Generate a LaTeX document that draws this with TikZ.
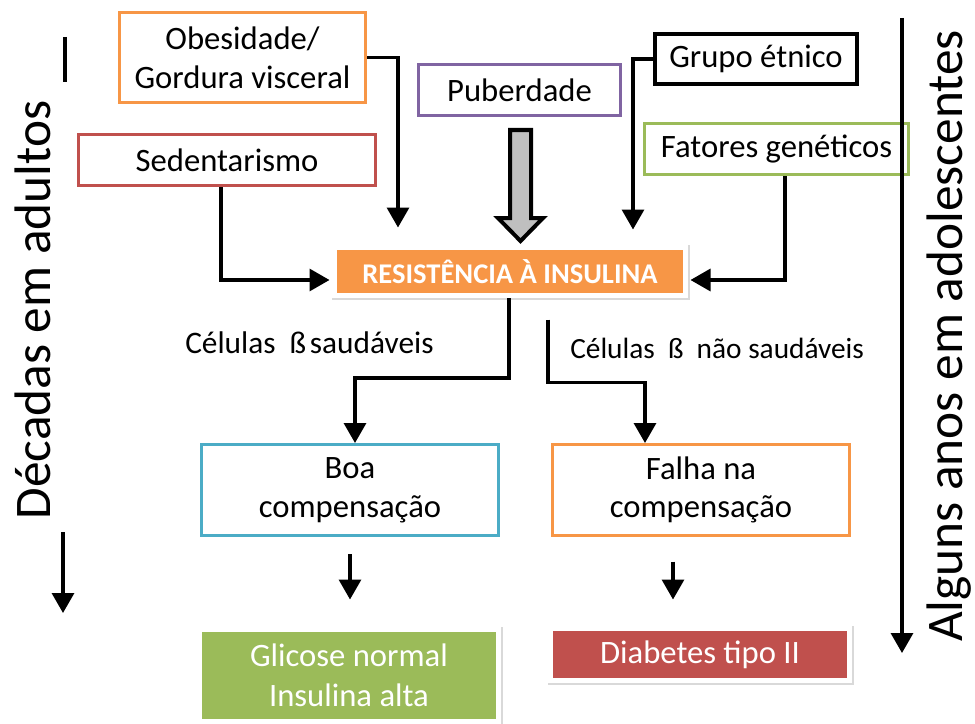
\documentclass[tikz,border=0pt]{standalone}
\usepackage{fontspec}
\setmainfont{Carlito}
\usetikzlibrary{arrows.meta}
\definecolor{cOrange}{HTML}{F79646}
\definecolor{cRed}{HTML}{C0504D}
\definecolor{cPurple}{HTML}{8064A2}
\definecolor{cGreen}{HTML}{9BBB59}
\definecolor{cBlue}{HTML}{4BACC6}
\definecolor{cGray}{HTML}{BFBFBF}
\def\pu{0.75pt}
\tikzset{
  sz/.style 2 args={minimum width=#1*0.75pt, minimum height=#2*0.75pt},
  box/.style={draw=#1, line width=2.25pt, fill=white, inner sep=0pt, align=center,
    font=\fontsize{24.5}{29}\selectfont},
  solidbox/.style={fill=#1, draw=white, line width=3.75pt, inner sep=0pt, align=center,
    text=white, font=\fontsize{24.5}{30}\selectfont,
    preaction={draw=black!15, line width=5.25pt, transform canvas={xshift=0.5pt,yshift=-0.8pt}}},
  arr/.style={line width=2.5pt, -{Triangle[length=15pt,width=16.5pt]}},
  sidelabel/.style={rotate=90, anchor=base, font=\fontsize{38.5}{40}\selectfont},
}
\begin{document}
\begin{tikzpicture}[x=0.75pt, y=-0.75pt]
\useasboundingbox (0,0) rectangle (975,724);

% boxes
\node[box=cOrange, sz={246}{90}] (obes) at (242.5,57.5) {Obesidade/\\Gordura visceral};
\node[box=cRed, sz={297}{51}] (sed) at (227,160) {Sedentarismo};
\node[box=cPurple, sz={202}{51}] (pub) at (519.5,90) {Puberdade};
\node[box=black, line width=3pt, sz={202}{50}] (grp) at (756,59) {Grupo étnico};
\node[box=cGreen, sz={264}{51}] (fat) at (776.5,149) {Fatores genéticos};
\node[solidbox=cOrange, sz={351}{48}, font=\bfseries\fontsize{21.4}{25}\selectfont] (res) at (510,271.5) {RESISTÊNCIA À INSULINA};
\node[box=cBlue, sz={297}{91}] (boa) at (350,490) {Boa\\compensação};
\node[box=cOrange, sz={297}{91}] (fal) at (701,490) {Falha na\\compensação};
\node[solidbox=cGreen, sz={299}{92}] (gli) at (349,675.5) {Glicose normal\\Insulina alta};
\node[solidbox=cRed, sz={299}{52}] (dia) at (700,654.5) {Diabetes tipo II};

% labels
\node[anchor=base west, inner sep=0pt, font=\fontsize{23.5}{28}\selectfont] (lab1) at (185,353)
  {Células\hspace{0.45em}ß\hspace{0.12em}saudáveis};
\node[anchor=base west, inner sep=0pt, font=\fontsize{22}{26}\selectfont] (lab2) at (570,358)
  {Células\hspace{0.45em}ß\hspace{0.45em}não saudáveis};
\node[sidelabel] (lefttext) at (50,310) {Décadas em adultos};
\node[sidelabel] (righttext) at (962,336) {Alguns anos em adolescentes};

% puberty block arrow
\draw[line width=3pt, fill=cGray, line join=miter]
  (510,130) -- (531,130) -- (531,218) -- (543,218) -- (520.5,241) -- (498,218) -- (510,218) -- cycle;

% connectors into resistance
\draw[arr, shorten >=17.5*\pu] (obes.east) -| ([xshift=-112*\pu]res.north);
\draw[arr, shorten >=2.5*\pu] ([xshift=-6*\pu]sed.south) |- ([yshift=-8.5*\pu]res.west);
\draw[arr, shorten >=15.5*\pu] (grp.west) -| ([xshift=123*\pu]res.north);
\draw[arr, shorten >=2.5*\pu] ([xshift=8.5*\pu]fat.south) |- ([yshift=-8.5*\pu]res.east);

% connectors out of resistance
\draw[arr] ([xshift=-1*\pu]res.south) -- ++(0,80) -| ([xshift=5*\pu]boa.north);
\draw[arr] ([xshift=38*\pu,yshift=-21.5*\pu]res.south) -- ++(0,63) -| ([xshift=-56*\pu]fal.north);

% lower arrows
\draw[arr, shorten <=17*\pu, shorten >=27.5*\pu] (boa.south) -- (boa.south |- gli.north);
\draw[arr, shorten <=24.5*\pu, shorten >=26.5*\pu] ([xshift=-28*\pu]fal.south) -- ([xshift=-28*\pu]fal.south |- dia.north);

% side timeline arrows
\coordinate (l1) at (65,37);
\coordinate (l2) at (65,82);
\coordinate (l3) at (63,532);
\coordinate (l4) at (63,613);
\coordinate (r1) at (902,18);
\coordinate (r2) at (902,653);
\draw[line width=3pt] (l1) -- (l2);
\draw[arr] (l3) -- (l4);
\draw[arr] (r1) -- (r2);
\end{tikzpicture}
\end{document}
